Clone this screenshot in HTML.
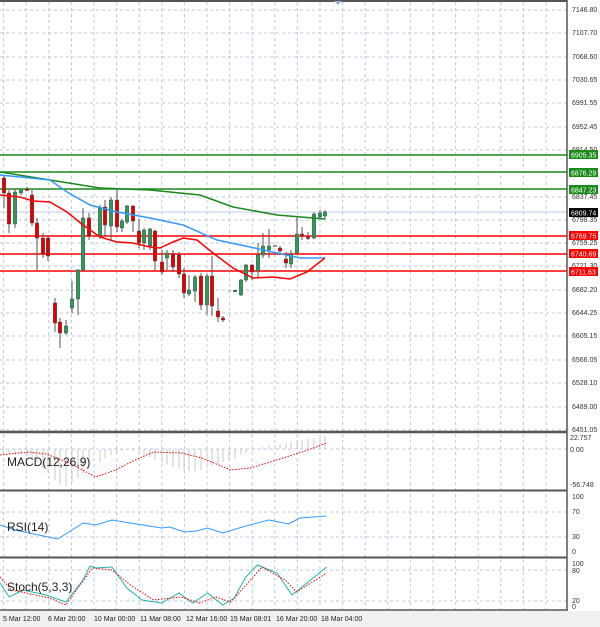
<!DOCTYPE html><html><head><meta charset="utf-8"><style>
html,body{margin:0;padding:0;background:#fff;width:600px;height:627px;overflow:hidden}
svg{display:block;font-family:"Liberation Sans",sans-serif}
</style></head><body>
<svg id="s" width="600" height="627" xmlns="http://www.w3.org/2000/svg">
<rect width="600" height="627" fill="#fff"/>
<rect x="0" y="611" width="600" height="16" fill="#f0f0f0"/>
<g id="grid" stroke="#b8c8e0" stroke-width="1" stroke-dasharray="3,3"></g>
<g id="lv"></g>
<g id="cd"></g>
<g id="ind"></g>
<g stroke="#555" fill="none">
<line x1="0" y1="1" x2="567" y2="1" stroke-width="2"/>
<line x1="567" y1="0" x2="567" y2="611" stroke-width="1.5"/>
<line x1="0" y1="432" x2="567" y2="432" stroke-width="2.5"/>
<line x1="0" y1="490.5" x2="567" y2="490.5" stroke-width="2"/>
<line x1="0" y1="557.5" x2="567" y2="557.5" stroke-width="2"/>
<line x1="0" y1="610" x2="567" y2="610" stroke-width="1.5"/>
</g>
<polygon points="334,1 342,1 338,5" fill="#9ab0d0"/>
<g font-size="7" fill="#333" id="pl">
<text x="572" y="12">7146.80</text><text x="572" y="35">7107.70</text><text x="572" y="59">7068.60</text><text x="572" y="82">7030.65</text><text x="572" y="105">6991.55</text><text x="572" y="129">6952.45</text><text x="572" y="152">6914.50</text><text x="572" y="199">6837.45</text><text x="572" y="222">6798.35</text><text x="572" y="245">6759.25</text><text x="572" y="268">6721.30</text><text x="572" y="292">6682.20</text><text x="572" y="315">6644.25</text><text x="572" y="338">6605.15</text><text x="572" y="362">6566.05</text><text x="572" y="385">6528.10</text><text x="572" y="409">6489.00</text><text x="572" y="432">6451.05</text>
<text x="570" y="440">22.757</text><text x="570" y="452">0.00</text><text x="570" y="487">-56.748</text>
<text x="572" y="499">100</text><text x="572" y="514">70</text><text x="572" y="539">30</text><text x="572" y="554">0</text>
<text x="572" y="566">100</text><text x="572" y="573">80</text><text x="572" y="603">20</text><text x="572" y="609">0</text>
</g>
<g font-size="7" fill="#fff">
<rect x="569" y="150" width="29" height="9" fill="#1a8a1a"/><text x="571" y="157.5">6905.35</text>
<rect x="569" y="168" width="29" height="9" fill="#1a8a1a"/><text x="571" y="175.5">6876.29</text>
<rect x="569" y="185" width="29" height="9" fill="#1a8a1a"/><text x="571" y="192.5">6847.23</text>
<rect x="569" y="208" width="29" height="9" fill="#000"/><text x="571" y="215.5">6809.74</text>
<rect x="569" y="231" width="29" height="9" fill="#f00"/><text x="571" y="238.5">6769.75</text>
<rect x="569" y="249" width="29" height="9" fill="#f00"/><text x="571" y="256.5">6740.69</text>
<rect x="569" y="267" width="29" height="9" fill="#f00"/><text x="571" y="274.5">6711.63</text>
</g>
<g font-size="12" fill="#222">
<text x="7" y="466">MACD(12,26,9)</text><text x="7" y="531">RSI(14)</text><text x="7" y="591">Stoch(5,3,3)</text>
</g>
<g font-size="7" fill="#222">
<text x="3" y="621">5 Mar 12:00</text><text x="48" y="621">6 Mar 20:00</text><text x="94" y="621">10 Mar 00:00</text><text x="140" y="621">11 Mar 08:00</text><text x="186" y="621">12 Mar 16:00</text><text x="230" y="621">15 Mar 08:01</text><text x="276" y="621">16 Mar 20:00</text><text x="321" y="621">18 Mar 04:00</text>
</g>
</svg>
<script>
var NS="http://www.w3.org/2000/svg";
function el(p,t,a){var e=document.createElementNS(NS,t);for(var k in a)e.setAttribute(k,a[k]);document.getElementById(p).appendChild(e);return e;}
for(var x=3.6;x<567;x+=22.6)el("grid","line",{x1:x,y1:2,x2:x,y2:610});
[10,33,57,80,103,127,150,197,220,243,266,290,313,336,360,383,407,430,449,512,537,570,601].forEach(function(y){el("grid","line",{x1:0,y1:y,x2:567,y2:y});});
el("lv","line",{x1:0,y1:212,x2:567,y2:212,stroke:"#b8cce8","stroke-width":1});
[155,172,189].forEach(function(y){el("lv","line",{x1:0,y1:y,x2:567,y2:y,stroke:"#1a8a1a","stroke-width":1.5});});
[236,254,271].forEach(function(y){el("lv","line",{x1:0,y1:y,x2:567,y2:y,stroke:"#f00","stroke-width":1.5});});
var C=[[4,178,193,175,208],[9,193,224,190,233],[15,224,192,189,228],[21,193,190,190,195],[27,189,190,187,191],[32,195,223,190,226],[37,223,238,218,270],[43,238,254,233,258],[48,238,256,235,261],[55,303,323,298,332],[60,322,333,318,348],[66,333,326,320,335],[72,308,299,281,313],[78,299,270,269,315],[83,270,218,208,272],[89,218,236,213,240],[100,236,208,205,239],[105,207,225,200,237],[111,226,200,197,240],[117,200,227,188,232],[122,228,221,219,232],[127,222,206,205,224],[133,206,221,205,232],[139,231,243,219,248],[144,243,230,228,250],[150,246,229,228,250],[155,231,261,230,270],[162,262,272,250,275],[167,258,253,250,270],[173,254,267,250,272],[179,255,274,252,278],[184,274,293,268,298],[189,294,290,275,296],[195,291,277,275,302],[201,276,305,273,310],[207,305,276,274,315],[212,276,306,256,316],[218,311,317,298,322],[223,318,320,316,322],[241,295,280,279,296],[246,280,265,264,282],[252,265,272,264,280],[258,271,255,243,278],[263,255,246,233,258],[269,250,246,229,258],[280,248,251,246,255],[286,259,263,252,268],[291,264,254,250,268],[297,253,234,217,254],[302,234,235,227,240],[308,237,238,232,240],[314,238,214,212,239],[320,217,213,210,219],[325,216,212,210,219]];
C.forEach(function(c){var up=c[2]<c[1];el("cd","line",{x1:c[0],y1:c[3],x2:c[0],y2:c[4],stroke:"#555","stroke-width":1});
var t=Math.min(c[1],c[2]),h=Math.max(1.5,Math.abs(c[1]-c[2]));el("cd","rect",{x:c[0]-1.7,y:t,width:3.4,height:h,fill:up?"#2e9a5a":"#e00000",stroke:"#444","stroke-width":0.4});});
el("cd","line",{x1:228,y1:291,x2:231,y2:291,stroke:"#8e8","stroke-width":1.5});
el("cd","line",{x1:233,y1:291,x2:237,y2:291,stroke:"#333","stroke-width":1.5});
el("cd","line",{x1:273,y1:246,x2:277,y2:246,stroke:"#333","stroke-width":1});
function pl(pts,st,w,da,sx){sx=sx||1;var a={points:pts.map(function(p){return (p[0]*sx).toFixed(1)+","+p[1]}).join(" "),fill:"none",stroke:st,"stroke-width":w};if(da)a["stroke-dasharray"]=da;el("ind","polyline",a);}
pl([[0,172],[50,180],[100,188],[150,190],[200,195],[233,207],[277,215],[325,219]],"#1a8a1a",1.5);
pl([[0,175],[50,180],[67,192],[90,205],[117,212],[150,218],[183,225],[217,240],[250,247],[277,253],[300,258],[325,258]],"#3399ff",1.5);
pl([[0,195],[20,197],[33,201],[50,202],[67,212],[83,225],[100,237],[117,242],[133,243],[150,247],[160,248],[173,242],[183,238],[197,240],[213,253],[233,268],[253,278],[273,277],[290,279],[307,272],[325,258]],"#f00",1.5);
var S=1.154;
var hv=[[3,453],[9,454],[15,455],[21,455],[27,456],[32,458],[37,462],[43,468],[48,473],[55,480],[60,485],[66,486],[72,482],[78,478],[83,474],[89,470],[100,462],[105,458],[111,455],[117,452],[122,451],[127,450],[133,451],[139,453],[144,455],[150,457],[155,460],[162,463],[167,465],[173,467],[179,468],[184,470],[189,471],[195,471],[201,470],[207,468],[212,466],[218,464],[223,462],[229,460],[235,458],[241,455],[246,453],[252,451],[258,450],[263,447],[269,446],[275,445],[280,444],[286,443],[291,442],[297,441],[302,440],[308,439],[314,438],[320,437],[325,436]];
hv.forEach(function(h){el("ind","line",{x1:h[0],y1:449,x2:h[0],y2:h[1],stroke:"#c8c8c8","stroke-width":1});});
pl([[0,455],[25,452],[40,454],[60,463],[83,477],[100,470],[117,460],[133,452],[157,453],[175,458],[200,470],[217,468],[240,460],[267,450],[283,443]],"#f00",1,"1.5,1.5",S);
pl([[0,525],[13,530],[50,539],[72,523],[83,525],[97,520],[113,523],[140,528],[147,527],[160,532],[170,531],[180,528],[193,533],[213,526],[233,520],[250,524],[260,518],[283,516]],"#3399ff",1,null,S);
pl([[0,583],[8,597],[20,590],[40,595],[57,602],[72,580],[78,566],[83,568],[97,567],[110,588],[123,600],[140,603],[155,593],[167,603],[180,593],[193,605],[203,598],[213,577],[223,565],[240,573],[253,595],[267,582],[283,567]],"#20b2aa",1,null,S);
pl([[0,577],[10,590],[43,598],[57,605],[80,568],[97,570],[113,585],[133,600],[157,597],[173,603],[187,597],[200,602],[227,567],[247,580],[257,592],[283,573]],"#f00",1,"1.5,1.5",S);
</script>
</body></html>
